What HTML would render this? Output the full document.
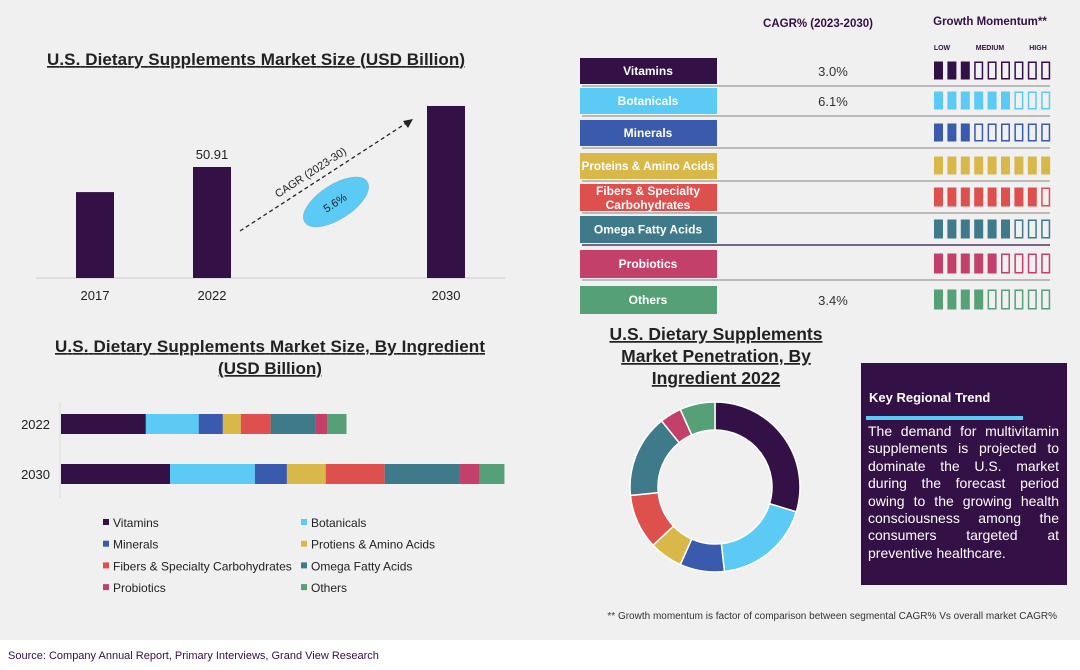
<!DOCTYPE html>
<html><head><meta charset="utf-8"><style>
body{margin:0;width:1080px;height:670px;background:#fff;font-family:"Liberation Sans",Arial,sans-serif;overflow:hidden}
#bg{position:absolute;left:0;top:0;width:1080px;height:640px;background:#f0f0f0}
svg{position:absolute;left:0;top:0}
.t{font-weight:bold;text-decoration:underline;fill:#222}
#trend{position:absolute;left:861px;top:363px;width:206px;height:222px;background:#331045;color:#fff}
#trend h4{margin:0;position:absolute;left:8px;top:27px;font-size:13px}
#trend p{position:absolute;left:7px;top:60px;width:191px;margin:0;font-size:14px;line-height:17.4px;text-align:justify}
</style></head><body>
<div id="bg"></div>
<svg id="s" width="1080" height="670">
<text x="256" y="65" font-size="17" text-anchor="middle" class="t" textLength="418">U.S. Dietary Supplements Market Size (USD Billion)</text>
<text x="270" y="352" font-size="17" text-anchor="middle" class="t" textLength="430">U.S. Dietary Supplements Market Size, By Ingredient</text>
<text x="270" y="374" font-size="17" text-anchor="middle" class="t">(USD Billion)</text>
<text x="716" y="340" font-size="17.5" text-anchor="middle" class="t">U.S. Dietary Supplements</text>
<text x="716" y="362" font-size="17.5" text-anchor="middle" class="t">Market Penetration, By</text>
<text x="716" y="384" font-size="17.5" text-anchor="middle" class="t">Ingredient 2022</text>
<text x="818" y="27" font-size="11.5" font-weight="bold" fill="#331045" text-anchor="middle">CAGR% (2023-2030)</text>
<text x="990" y="25" font-size="11.5" font-weight="bold" fill="#331045" text-anchor="middle">Growth Momentum**</text>
<text x="942" y="50" font-size="7" font-weight="bold" fill="#331045" text-anchor="middle">LOW</text>
<text x="990" y="50" font-size="7" font-weight="bold" fill="#331045" text-anchor="middle">MEDIUM</text>
<text x="1038" y="50" font-size="7" font-weight="bold" fill="#331045" text-anchor="middle">HIGH</text>
<text x="1057" y="619" font-size="10" fill="#333" text-anchor="end">** Growth momentum is factor of comparison between segmental CAGR% Vs overall market CAGR%</text>
<text x="8" y="659" font-size="11" fill="#331045">Source: Company Annual Report, Primary Interviews, Grand View Research</text>
</svg>
<div id="trend">
<h4>Key Regional Trend</h4>
<div style="position:absolute;left:5px;top:53px;width:157px;height:4px;background:#5bcbf5"></div>
<p>The demand for multivitamin supplements is projected to dominate the U.S. market during the forecast period owing to the growing health consciousness among the consumers targeted at preventive healthcare.</p>
</div>
<script>
const years=["2017","2022","2030"];
const sizes=[39.4,50.91,78.9];
const sizeLabels=["","50.91",""];
const ingredients=["Vitamins","Botanicals","Minerals","Protiens & Amino Acids","Fibers & Specialty Carbohydrates","Omega Fatty Acids","Probiotics","Others"];
const tableNames=["Vitamins","Botanicals","Minerals","Proteins & Amino Acids","Fibers & Specialty Carbohydrates","Omega Fatty Acids","Probiotics","Others"];
const colors=["#331045","#5bcbf5","#3a5aad","#d9b84a","#de504e","#3e7a8a","#c3406a","#55a077"];
const stackYears=["2022","2030"];
const v2022=[15.1,9.4,4.3,3.2,5.3,8.0,2.1,3.4];
const v2030=[19.4,15.1,5.7,6.9,10.5,13.3,3.6,4.4];
const cagr=["3.0%","6.1%","","","","","","3.4%"];
const momentum=[3,6,3,9,8,6,5,4];
const pieShares=v2022;

const NS="http://www.w3.org/2000/svg",s=document.getElementById('s');
function mk(t,a,p){const e=document.createElementNS(NS,t);for(const k in a)e.setAttribute(k,a[k]);(p||s).appendChild(e);return e;}
const base=278,py=111/50.91,bx=[95,212,446];
mk('line',{x1:36,y1:base,x2:505,y2:base,stroke:'#ccc'});
years.forEach((y,i)=>{const h=sizes[i]*py;
 const r=mk('rect',{x:bx[i]-19,y:base-h,width:38,height:h,fill:'#331045'});
 
 const t=mk('text',{x:bx[i],y:base+22,'font-size':13,'text-anchor':'middle',fill:'#222'});t.textContent=y;
 
 if(sizeLabels[i]){const l=mk('text',{x:bx[i],y:base-h-8,'font-size':13,'text-anchor':'middle',fill:'#222'});l.textContent=sizeLabels[i];
 }
});
const ar=mk('line',{x1:240,y1:231,x2:408,y2:122,stroke:'#222','stroke-width':1.3,'stroke-dasharray':'4,3'});

mk('polygon',{points:'413,119 403,121 408,128',fill:'#222'});
const ct=mk('text',{x:0,y:0,'font-size':11,fill:'#222',transform:'translate(278,198) rotate(-33)'});ct.textContent='CAGR (2023-30)';

const el=mk('ellipse',{cx:336,cy:202,rx:37,ry:17,fill:'#5bcbf5',stroke:'#7bd',transform:'rotate(-33 336 202)'});

const cv=mk('text',{x:0,y:0,'font-size':11,fill:'#222','text-anchor':'middle',transform:'translate(337,206) rotate(-33)'});cv.textContent='5.6%';

const sx=61,ps=5.62;
mk('line',{x1:60,y1:402,x2:60,y2:498,stroke:'#ddd'});
[v2022,v2030].forEach((vals,j)=>{let x=sx;const y=[414,464][j];
 const lt=mk('text',{x:50,y:y+15,'font-size':13,'text-anchor':'end',fill:'#222'});lt.textContent=stackYears[j];
 
 vals.forEach((v,i)=>{const w=v*ps;const r=mk('rect',{x:x,y:y,width:w,height:20,fill:colors[i]});
 x+=w;});
});
ingredients.forEach((n,i)=>{const x=i%2?302:104,y=523+Math.floor(i/2)*21.7;
 mk('rect',{x:x-1,y:y-4,width:6,height:6,fill:colors[i]});
 const t=mk('text',{x:x+9,y:y+4,'font-size':12,fill:'#222'});t.textContent=n;
 });
const rowsY=[58,88,120,153,184,216,250,286],rowH=[26,26,26,26,27,27,28,28];
tableNames.forEach((n,i)=>{const y=rowsY[i],h=rowH[i];
 const r=mk('rect',{x:580,y:y,width:137,height:h,fill:colors[i]});
 
 const two=n.length>26;
 if(two){['Fibers & Specialty','Carbohydrates'].forEach((p,k)=>{const t=mk('text',{x:648,y:y+11+k*14,'font-size':12,'font-weight':'bold',fill:'#fff','text-anchor':'middle'});t.textContent=p;});}
 else{const a={x:648,y:y+h/2+4,'font-size':12,'font-weight':'bold',fill:'#fff','text-anchor':'middle'};
 if(n.length>18){a.textLength=133;a.lengthAdjust='spacingAndGlyphs';}
 const t=mk('text',a);t.textContent=n;}
 if(i<7)mk('line',{x1:582,y1:y+h+2,x2:1050,y2:y+h+2,stroke:i==5?'#331045':'#999','stroke-width':1.2});
 if(cagr[i]){const c=mk('text',{x:833,y:y+h/2+5,'font-size':13,fill:'#333','text-anchor':'middle'});c.textContent=cagr[i];
 }
 for(let k=0;k<9;k++){const f=k<momentum[i];
 const q=mk('rect',{x:f?934+k*13.4:934.75+k*13.4,y:f?y+3.5:y+4.25,width:f?9:7.5,height:f?h-8:h-9.5,fill:f?colors[i]:'none',stroke:colors[i],'stroke-width':f?0:1.5});
 }
});
const cx=715,cy=487,R=85,r0=57,tot=pieShares.reduce((a,b)=>a+b,0);let a=-Math.PI/2;
pieShares.forEach((v,i)=>{const b=a+v/tot*2*Math.PI,l=(b-a)>Math.PI?1:0;
 const p=(rr,t)=>(cx+rr*Math.cos(t)).toFixed(2)+','+(cy+rr*Math.sin(t)).toFixed(2);
 const d='M'+p(R,a)+'A'+R+','+R+' 0 '+l+' 1 '+p(R,b)+'L'+p(r0,b)+'A'+r0+','+r0+' 0 '+l+' 0 '+p(r0,a)+'Z';
 const sl=mk('path',{d:d,fill:colors[i],stroke:'#fff','stroke-width':1.5});
 a=b;});
</script>
</body></html>
